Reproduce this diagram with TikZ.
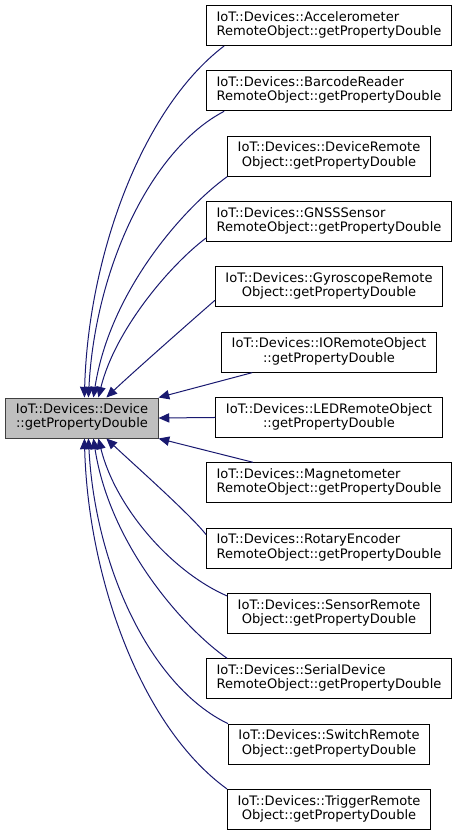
\documentclass[tikz,border=0pt]{standalone}
\usepackage{fontspec}
\setmainfont{DejaVu Sans}
\usetikzlibrary{arrows.meta,calc}
\definecolor{edgeblue}{HTML}{191970}
\definecolor{basefill}{HTML}{BFBFBF}
\definecolor{baseborder}{HTML}{404040}
% first line flush left, last line centred
\newcommand{\twolines}[2]{\begin{tabular}{@{}l@{}}#1\\\multicolumn{1}{@{}c@{}}{#2}\end{tabular}}
\tikzset{
  member/.style={draw=black, line width=0.75pt, fill=white, inner xsep=7.5pt,
    inner ysep=0pt, minimum height=30pt, font=\fontsize{9.8}{10.5}\selectfont},
  base/.style={member, draw=baseborder, fill=basefill},
  callby/.style={draw=edgeblue, line width=0.75pt,
    -{Triangle[length=8pt,width=7pt]}}
}
\begin{document}
\begin{tikzpicture}[x=0.75pt,y=-0.75pt]
  \useasboundingbox (0,0) rectangle (457,836);
  \node[base] (dev) at (82,418) {\twolines{IoT::Devices::Device}{::getPropertyDouble}};
  \foreach \i/\first/\second in {
      1/IoT::Devices::Accelerometer/RemoteObject::getPropertyDouble,
      2/IoT::Devices::BarcodeReader/RemoteObject::getPropertyDouble,
      3/IoT::Devices::DeviceRemote/Object::getPropertyDouble,
      4/IoT::Devices::GNSSSensor/RemoteObject::getPropertyDouble,
      5/IoT::Devices::GyroscopeRemote/Object::getPropertyDouble,
      6/IoT::Devices::IORemoteObject/::getPropertyDouble,
      7/IoT::Devices::LEDRemoteObject/::getPropertyDouble,
      8/IoT::Devices::Magnetometer/RemoteObject::getPropertyDouble,
      9/IoT::Devices::RotaryEncoder/RemoteObject::getPropertyDouble,
      10/IoT::Devices::SensorRemote/Object::getPropertyDouble,
      11/IoT::Devices::SerialDevice/RemoteObject::getPropertyDouble,
      12/IoT::Devices::SwitchRemote/Object::getPropertyDouble,
      13/IoT::Devices::TriggerRemote/Object::getPropertyDouble}
    \node[member] (a\i) at (329,{25.5+65.33*(\i-1)}) {\twolines{\first}{\second}};
  % callers above
  \draw[callby] ($(a1.south west)+(18,0)$) .. controls (140,110) and (88,260) .. ($(dev.north west)+(79,0)$);
  \draw[callby] ($(a2.south west)+(18,0)$) .. controls (150,150) and (95,270) .. ($(dev.north west)+(83,0)$);
  \draw[callby] (a3.south west) .. controls (185,207) and (110,290) .. ($(dev.north west)+(88,0)$);
  \draw[callby] ($(a4.south west)+(0,-4)$) .. controls (170,265) and (115,330) .. ($(dev.north west)+(93,0)$);
  \draw[callby] ($(a5.south west)+(0,-7)$) .. controls (190,322) and (130,375) .. ($(dev.north west)+(101,0)$);
  % straight ones
  \draw[callby] ($(a6.south west)+(31,0)$) -- (dev.north east);
  \draw[callby] (a7.west) -- (dev.east);
  \draw[callby] ($(a8.north west)+(47,0)$) -- (dev.south east);
  % callers below
  \draw[callby] ($(a9.north west)+(0,7)$) .. controls (190,514) and (130,461) .. ($(dev.south west)+(101,0)$);
  \draw[callby] ($(a10.north west)+(0,3)$) .. controls (170,571) and (115,506) .. ($(dev.south west)+(93,0)$);
  \draw[callby] ($(a11.north west)+(21,0)$) .. controls (185,629) and (110,546) .. ($(dev.south west)+(88,0)$);
  \draw[callby] (a12.north west) .. controls (150,686) and (95,566) .. ($(dev.south west)+(83,0)$);
  \draw[callby] (a13.north west) .. controls (140,726) and (88,576) .. ($(dev.south west)+(79,0)$);
\end{tikzpicture}
\end{document}
